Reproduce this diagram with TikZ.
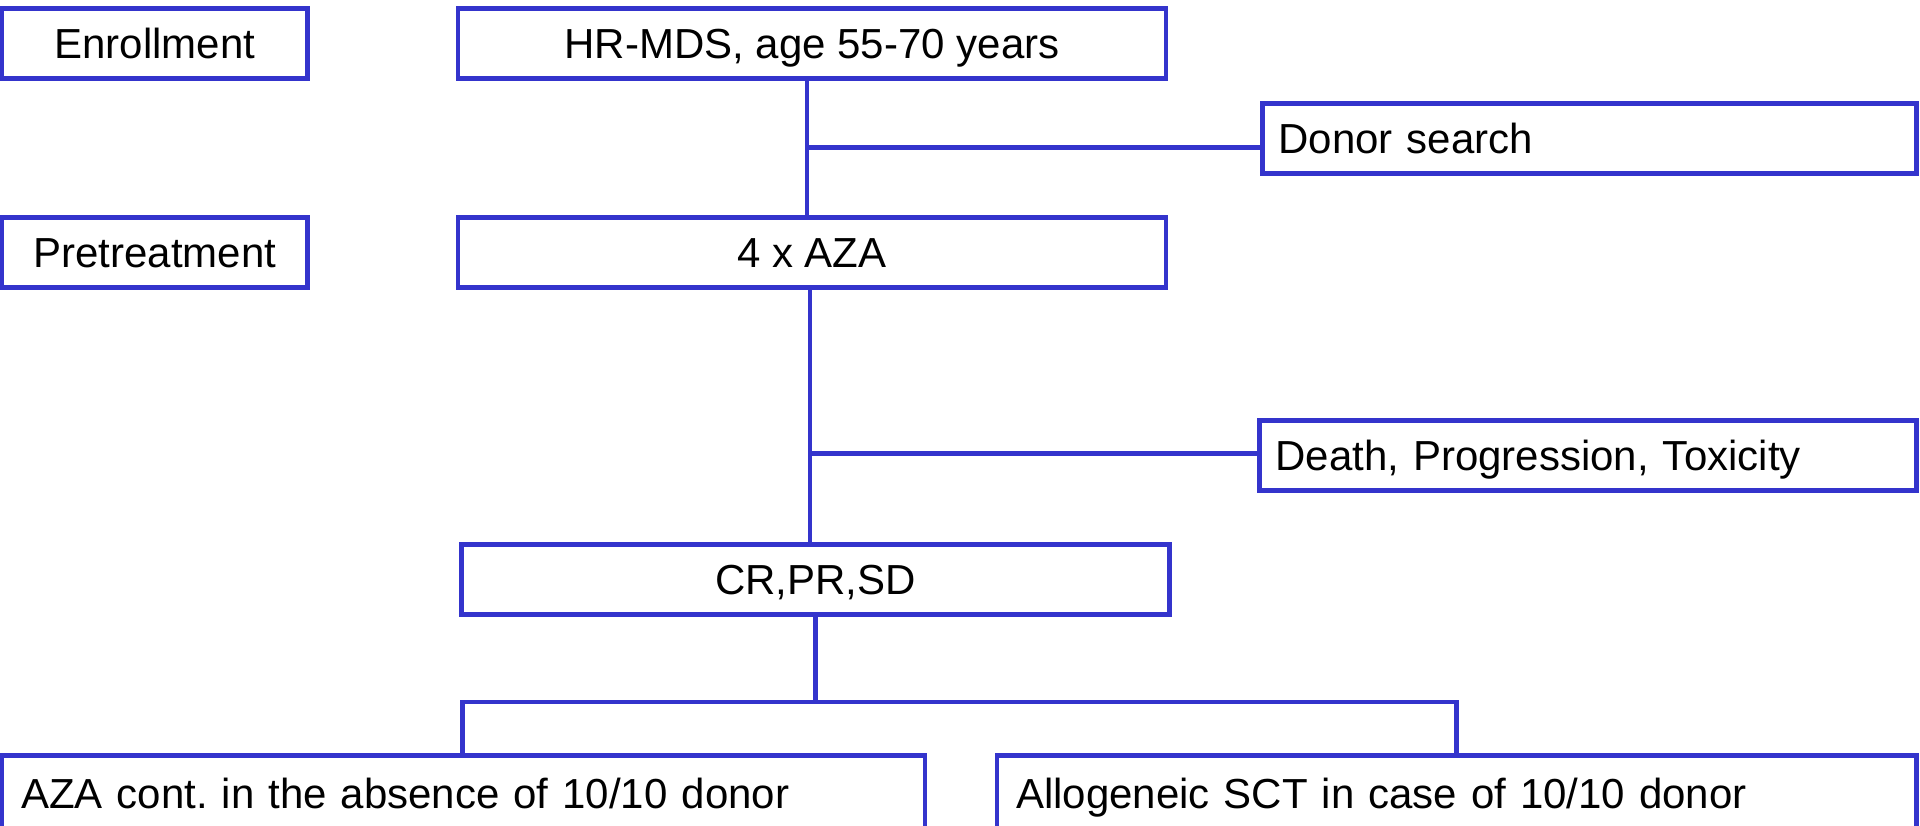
\documentclass[tikz,border=0pt]{standalone}
\usepackage{fontspec}
\setmainfont{Liberation Sans}
\frenchspacing
\definecolor{bl}{RGB}{52,52,204}
\tikzset{
  box/.style={draw=bl, line width=4.5pt, rectangle, inner sep=0pt,
    minimum height=70pt, text height=29.5pt, text depth=0pt,
    font=\fontsize{42}{50}\selectfont},
  lbox/.style={box, align=left, inner xsep=16pt},
  conn/.style={draw=bl, line width=4.5pt}
}
\begin{document}
\begin{tikzpicture}[x=1pt,y=-1pt]
\useasboundingbox (0,0) rectangle (1920,825);
\node[box, minimum width=305.5pt] (enr) at (154.75,43.5) {Enrollment};
\node[box, minimum width=305.5pt] (pre) at (154.75,252.5) {Pretreatment};
\node[box, minimum width=708pt] (hr) at (812,43.5) {HR-MDS, age 55-70 years};
\node[box, minimum width=708pt] (aza) at (812,252.5) {4 x AZA};
\node[lbox, text width=622pt] (donor) at (1589.5,138.5) {Donor search};
\node[lbox, text width=625pt] (death) at (1588,455.5) {Death, Progression, Toxicity};
\node[box, minimum width=708pt] (cr) at (815.5,579.5) {CR,PR,SD};
\node[lbox, inner xsep=19pt, text width=885pt, minimum height=72.5pt] (azac) at (463.5,791.75) {\raisebox{-2pt}{AZA cont.\ in the absence of 10/10 donor}};
\node[lbox, inner xsep=19pt, text width=881.5pt, minimum height=72.5pt] (allo) at (1456.75,791.75) {\raisebox{-2pt}{Allogeneic SCT in case of 10/10 donor}};
\coordinate (j1) at (807,147.5);
\coordinate (j2) at (810,453.5);
\coordinate (j3) at (815.5,702);
\coordinate (jl) at (462.5,702);
\coordinate (jr) at (1456.5,702);
\draw[conn] (hr.south -| j1) -- (aza.north -| j1);
\draw[conn] (j1) -- (j1 -| donor.west);
\draw[conn] (aza.south -| j2) -- (cr.north -| j2);
\draw[conn] (j2) -- (j2 -| death.west);
\draw[conn] (cr.south -| j3) -- (j3);
\draw[conn] (jl |- azac.north) -- (jl) -- (jr) -- (jr |- allo.north);
\end{tikzpicture}
\end{document}
